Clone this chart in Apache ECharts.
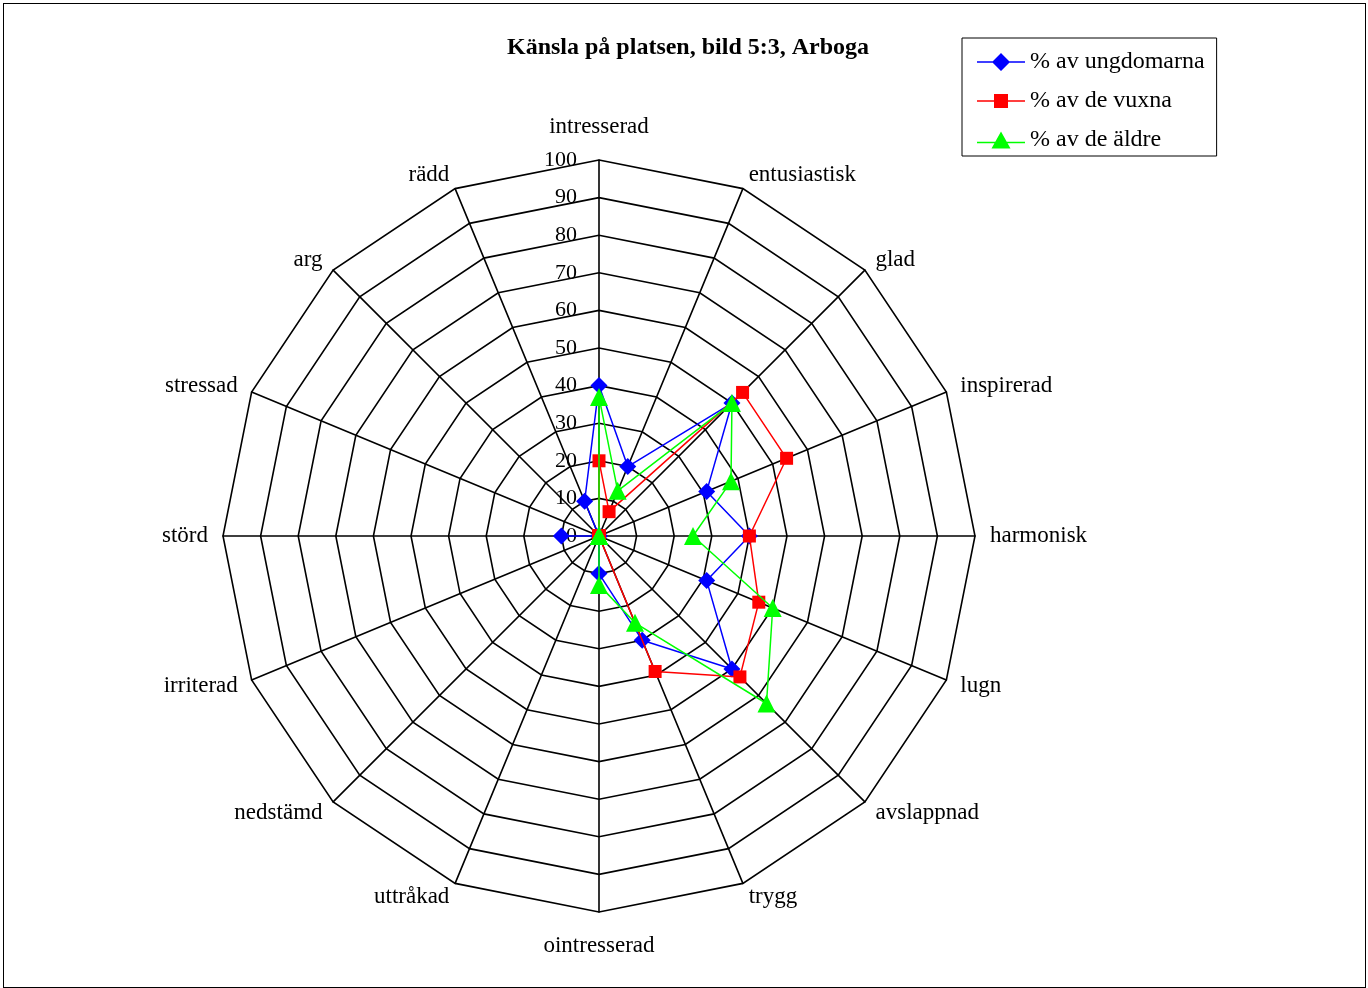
<!DOCTYPE html>
<html>
<head>
<meta charset="utf-8">
<script src="https://cdn.jsdelivr.net/npm/echarts@6/dist/echarts.min.js"></script>
<style>
html,body{margin:0;padding:0;background:#fff;}
#chart{position:absolute;left:0;top:0;width:1368px;height:988px;}
#frame{position:absolute;left:3px;top:3px;width:1361px;height:983px;border:1px solid #000;pointer-events:none;}
</style>
</head>
<body>
<div id="chart"></div>
<div id="frame"></div>
<script>
// Categories in clockwise order starting from the top
const categories = ['intresserad','entusiastisk','glad','inspirerad','harmonisk','lugn','avslappnad','trygg','ointresserad','uttråkad','nedstämd','irriterad','störd','stressad','arg','rädd'];
const ungdomarna = [40, 20, 50, 31, 40, 31, 50, 30, 10, 0, 0, 0, 10, 0, 0, 10];
const vuxna      = [20, 7, 54, 54, 40, 46, 53, 39, 0, 0, 0, 0, 0, 0, 0, 0];
const aldre      = [37, 13, 50, 38, 25, 50, 63, 25, 13, 0, 0, 0, 0, 0, 0, 0];
const seriesNames = ['% av ungdomarna', '% av de vuxna', '% av de äldre'];
const radialTicks = [0, 10, 20, 30, 40, 50, 60, 70, 80, 90, 100];

// ECharts radar runs counter-clockwise; reorder so the picture runs clockwise
const order = [0];
for (let i = categories.length - 1; i >= 1; i--) order.push(i);
const reorder = arr => order.map(i => arr[i]);

const FONT = '"Liberation Serif", "Times New Roman", serif';
const center = [599, 536];
const radius = 376;

const chart = echarts.init(document.getElementById('chart'), null, {renderer: 'canvas'});
chart.setOption({
  animation: false,
  backgroundColor: '#fff',
  title: {
    text: 'Känsla på platsen, bild 5:3, Arboga',
    left: 502,
    top: 31,
    textStyle: {fontFamily: FONT, fontSize: 24, fontWeight: 'bold', color: '#000'}
  },
  legend: {
    orient: 'vertical',
    left: 962,
    top: 38,
    borderColor: '#000',
    borderWidth: 1,
    padding: [12, 12, 4, 15],
    itemWidth: 48,
    itemHeight: 18,
    itemGap: 15,
    symbolKeepAspect: true,
    textStyle: {fontFamily: FONT, fontSize: 24, color: '#000'},
    data: [
      {name: seriesNames[0], icon: 'path://M0,8.3 L48,8.3 L48,9.7 L0,9.7 Z M24,0 L33,9 L24,18 L15,9 Z'},
      {name: seriesNames[1], icon: 'path://M0,6.3 L48,6.3 L48,7.7 L0,7.7 Z M17,0 L31,0 L31,14 L17,14 Z'},
      {name: seriesNames[2], icon: 'path://M0,10.3 L48,10.3 L48,11.7 L0,11.7 Z M24,0 L33.5,17 L14.5,17 Z'}
    ]
  },
  radar: {
    center: center,
    radius: radius,
    startAngle: 90,
    shape: 'polygon',
    splitNumber: 10,
    indicator: reorder(categories).map(n => ({name: n, min: 0, max: 100})),
    axisName: {color: '#000', fontFamily: FONT, fontSize: 23, padding: [7, 0, 7, 0]},
    nameGap: 15,
    axisLine: {lineStyle: {color: '#000', width: 1.6}},
    splitLine: {lineStyle: {color: '#000', width: 1.6}},
    splitArea: {show: false},
    axisTick: {show: false},
    axisLabel: {show: false}
  },
  polar: {center: center, radius: radius},
  angleAxis: {type: 'value', min: 0, max: 360, startAngle: 90, show: false},
  radiusAxis: {
    type: 'value', min: radialTicks[0], max: radialTicks[radialTicks.length - 1], interval: 10,
    axisLine: {show: false}, axisTick: {show: false}, splitLine: {show: false},
    axisLabel: {show: true, color: '#000', fontFamily: FONT, fontSize: 22, margin: 22,
      formatter: v => radialTicks.includes(v) ? String(v) : ''}
  },
  series: [
    {
      type: 'radar', name: seriesNames[0], z: 3,
      symbol: 'diamond', symbolSize: 17,
      lineStyle: {color: '#0000ff', width: 1.5},
      itemStyle: {color: '#0000ff'},
      data: [{name: seriesNames[0], value: reorder(ungdomarna)}]
    },
    {
      type: 'radar', name: seriesNames[1], z: 4,
      symbol: 'rect', symbolSize: 13,
      lineStyle: {color: '#ff0000', width: 1.5},
      itemStyle: {color: '#ff0000'},
      data: [{name: seriesNames[1], value: reorder(vuxna)}]
    },
    {
      type: 'radar', name: seriesNames[2], z: 5,
      symbol: 'triangle', symbolSize: 18,
      lineStyle: {color: '#00ff00', width: 1.5},
      itemStyle: {color: '#00ff00'},
      data: [{name: seriesNames[2], value: reorder(aldre)}]
    }
  ]
});
</script>
</body>
</html>
